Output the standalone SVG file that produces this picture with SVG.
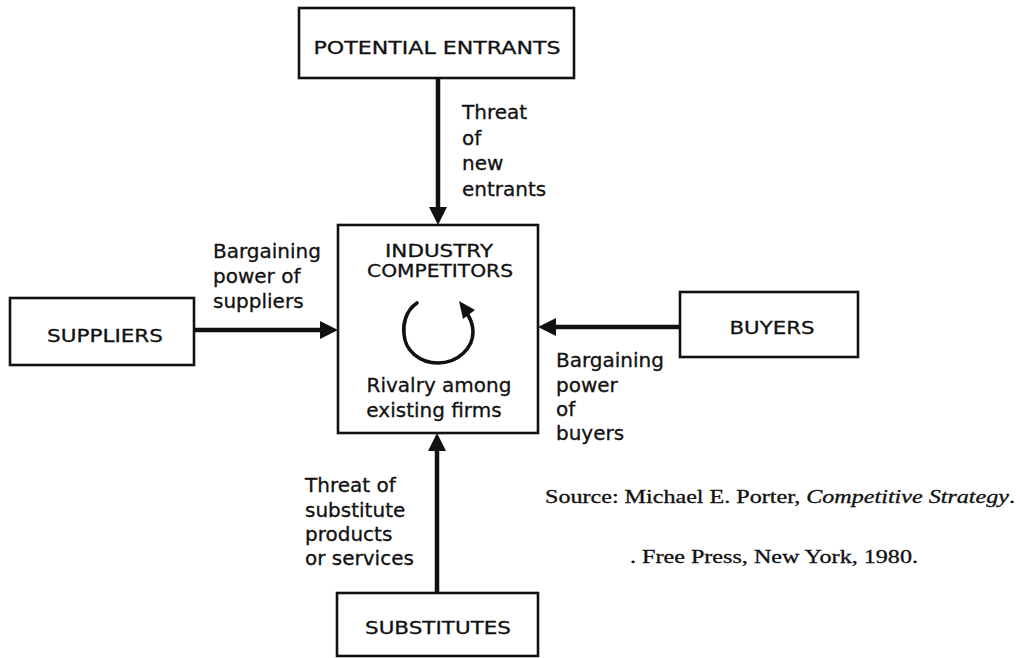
<svg xmlns="http://www.w3.org/2000/svg" width="1020" height="658" viewBox="0 0 1020 658">
  <style>
    .box { fill: #ffffff; stroke: #111111; stroke-width: 2.6; }
    .cap { font-family: "DejaVu Sans", "Liberation Sans", sans-serif; font-size: 17.5px; fill: #111111; stroke: #111111; stroke-width: 0.3; text-anchor: middle; }
    .lbl { font-family: "DejaVu Sans", "Liberation Sans", sans-serif; font-size: 20px; fill: #111111; stroke: #111111; stroke-width: 0.3; }
    .mid { text-anchor: middle; }
    .src { font-family: "Liberation Serif", "Times New Roman", serif; font-size: 18px; fill: #111111; stroke: #111111; stroke-width: 0.3; }
    .conn { stroke: #111111; stroke-width: 4.5; fill: none; }
    .head { fill: #111111; }
  </style>
  <rect width="1020" height="658" fill="#ffffff"/>

  <!-- connectors -->
  <g id="connectors">
    <!-- potential entrants down to the industry box -->
    <line class="conn" x1="438" y1="78" x2="438" y2="208"/>
    <polygon class="head" points="438,225 429,207 447,207"/>
    <!-- suppliers to the industry box -->
    <line class="conn" x1="194" y1="330" x2="322" y2="330"/>
    <polygon class="head" points="338,330 320,321 320,339"/>
    <!-- buyers to the industry box -->
    <line class="conn" x1="680" y1="327" x2="554" y2="327"/>
    <polygon class="head" points="538,327 556,318 556,336"/>
    <!-- substitutes up to the industry box -->
    <line class="conn" x1="437" y1="593" x2="437" y2="450"/>
    <polygon class="head" points="437,433 428,451 446,451"/>
  </g>

  <!-- connector labels -->
  <g id="labels">
    <text class="lbl" x="462" y="119">Threat</text>
    <text class="lbl" x="462" y="145">of</text>
    <text class="lbl" x="462" y="170">new</text>
    <text class="lbl" x="462" y="196">entrants</text>

    <text class="lbl" x="213" y="258">Bargaining</text>
    <text class="lbl" x="213" y="283">power of</text>
    <text class="lbl" x="213" y="308">suppliers</text>

    <text class="lbl" x="556" y="367">Bargaining</text>
    <text class="lbl" x="556" y="392">power</text>
    <text class="lbl" x="556" y="416">of</text>
    <text class="lbl" x="556" y="440">buyers</text>

    <text class="lbl" x="305" y="492">Threat of</text>
    <text class="lbl" x="305" y="517">substitute</text>
    <text class="lbl" x="305" y="541">products</text>
    <text class="lbl" x="305" y="565">or services</text>
  </g>

  <g id="potential-entrants">
    <rect class="box" x="299" y="8" width="275" height="70"/>
    <text class="cap" x="437" y="54" textLength="247" lengthAdjust="spacingAndGlyphs">POTENTIAL ENTRANTS</text>
  </g>

  <g id="suppliers">
    <rect class="box" x="10" y="298" width="184" height="67"/>
    <text class="cap" x="105" y="342" textLength="116" lengthAdjust="spacingAndGlyphs">SUPPLIERS</text>
  </g>

  <g id="buyers">
    <rect class="box" x="680" y="292" width="178" height="65"/>
    <text class="cap" x="772" y="334" textLength="85" lengthAdjust="spacingAndGlyphs">BUYERS</text>
  </g>

  <g id="substitutes">
    <rect class="box" x="337" y="593" width="201" height="63"/>
    <text class="cap" x="438" y="634" textLength="146" lengthAdjust="spacingAndGlyphs">SUBSTITUTES</text>
  </g>

  <g id="industry-competitors">
    <rect class="box" x="338" y="225" width="200" height="208"/>
    <text class="cap" x="439" y="257" textLength="108" lengthAdjust="spacingAndGlyphs">INDUSTRY</text>
    <text class="cap" x="440" y="277" textLength="146" lengthAdjust="spacingAndGlyphs">COMPETITORS</text>
    <!-- rivalry loop -->
    <path d="M417,303 C405,311 403,325 404,334 C405,351 420,363 438,363 C458,363 473,348 473,332 C473,326 471,320 468,315" fill="none" stroke="#111111" stroke-width="3.6" stroke-linecap="round"/>
    <polygon class="head" points="459,301 475,310 463,319"/>
    <text class="lbl mid" x="439" y="392">Rivalry among</text>
    <text class="lbl mid" x="434" y="417">existing firms</text>
  </g>

  <g id="source">
    <text class="src" x="545" y="503" textLength="470" lengthAdjust="spacingAndGlyphs">Source: Michael E. Porter, <tspan font-style="italic">Competitive Strategy</tspan>.</text>
    <text class="src" x="630" y="563" textLength="288" lengthAdjust="spacingAndGlyphs">. Free Press, New York, 1980.</text>
  </g>
</svg>
